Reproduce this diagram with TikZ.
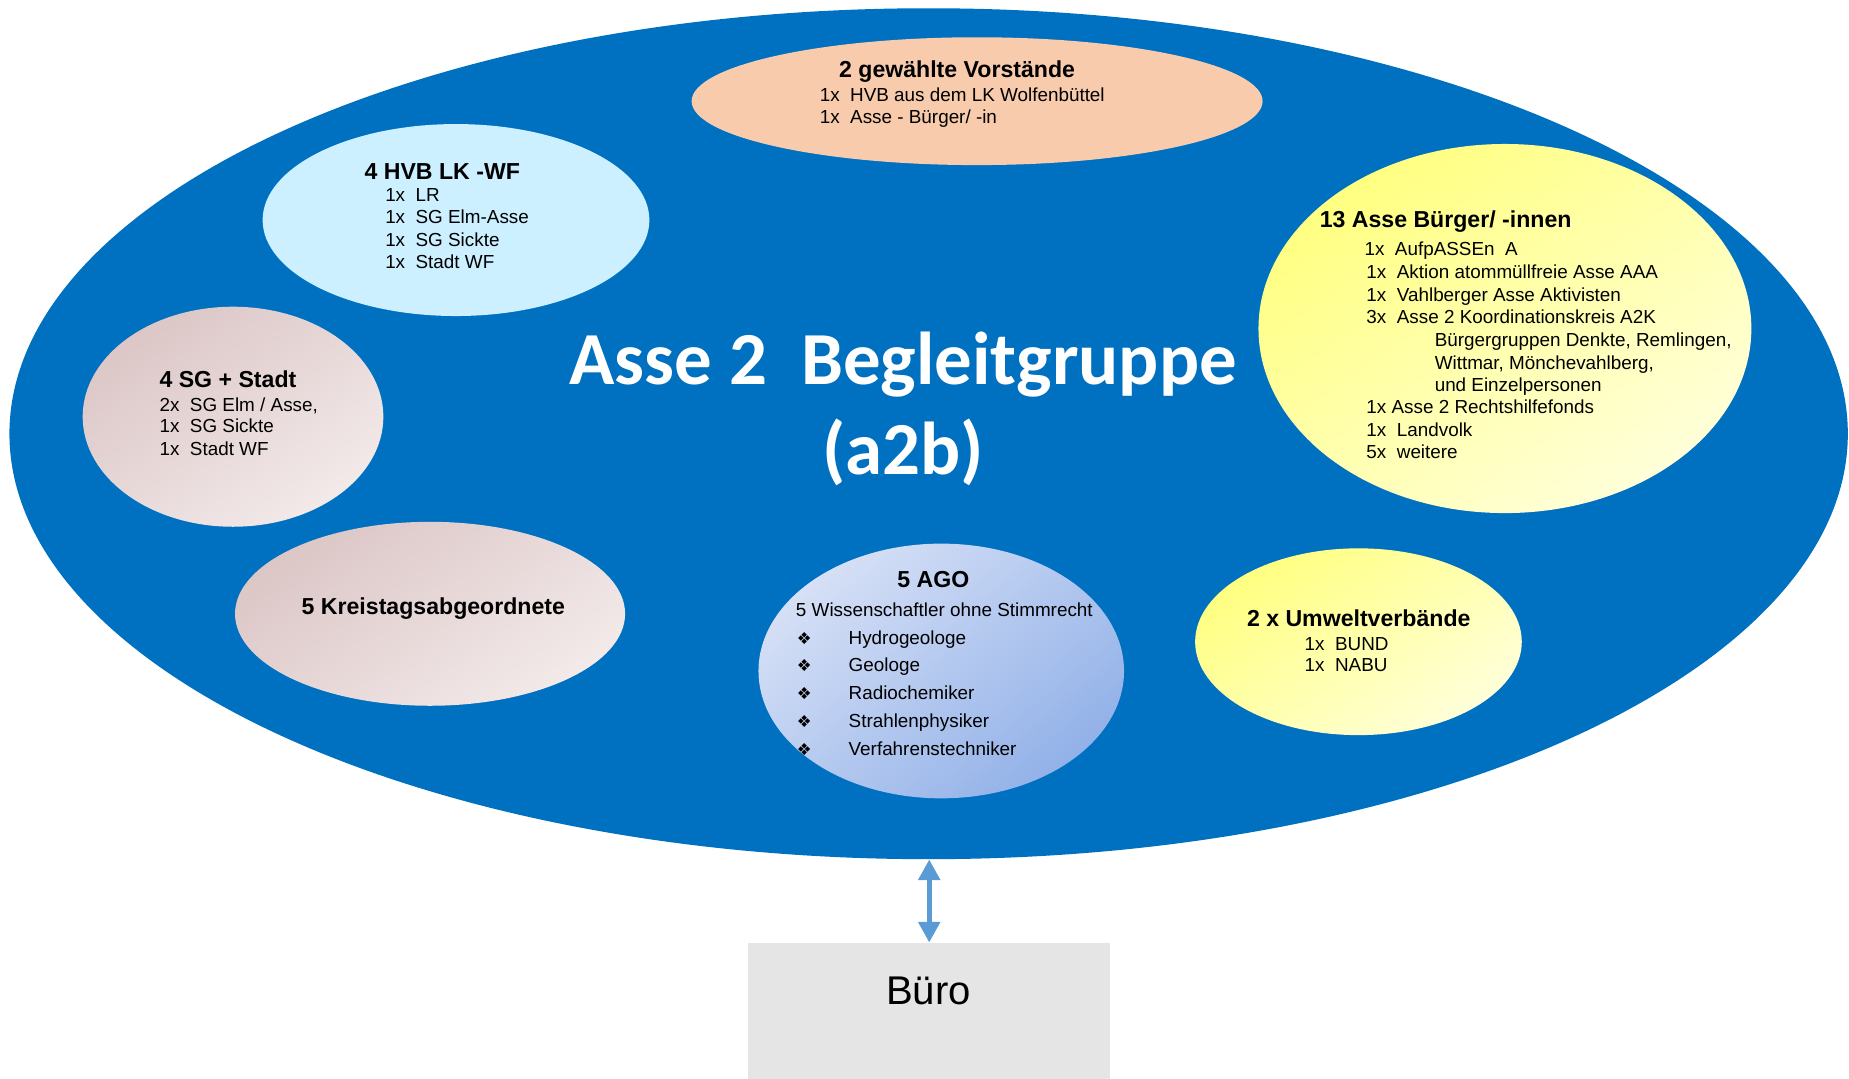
\documentclass[tikz,border=0pt]{standalone}
\usepackage{fontspec}
\setmainfont{Liberation Sans}
\newfontfamily\titlefont{Carlito}
\newfontfamily\symfont{DejaVu Sans}
\usetikzlibrary{shapes.geometric, arrows.meta}
\definecolor{bigblue}{HTML}{0070C0}
\definecolor{peach}{HTML}{F8CBAD}
\definecolor{skyblue}{HTML}{CCF0FF}
\definecolor{pinkA}{RGB}{220,198,198}
\definecolor{pinkB}{RGB}{243,234,234}
\definecolor{agoA}{RGB}{214,224,246}
\definecolor{agoB}{RGB}{146,177,232}
\definecolor{yelA}{RGB}{255,255,128}
\definecolor{yelB}{RGB}{255,255,218}
\definecolor{arrowblue}{HTML}{5B9BD5}
\definecolor{burogray}{HTML}{E5E5E5}
\tikzset{
  oval/.style={ellipse, inner sep=0pt, draw=none},
  body/.style={font=\fontsize{16}{19}\selectfont, inner sep=0pt, anchor=base west, text=black},
  head/.style={font=\fontsize{19.6}{23}\selectfont\bfseries, inner sep=0pt, anchor=base west, text=black},
  pinkshade/.style={top color=pinkA, bottom color=pinkB, shading angle=35},
  agoshade/.style={top color=agoA, bottom color=agoB, shading angle=40},
  yelshade/.style={top color=yelA, bottom color=yelB, shading angle=35},
  bigtitle/.style={font=\titlefont\fontsize{63.5}{76}\selectfont\bfseries, text=white, inner sep=0pt, anchor=base},
  bullet/.style={font=\symfont\fontsize{14}{16}\selectfont, inner sep=0pt, anchor=center},
}
\begin{document}
\begin{tikzpicture}[x=1pt, y=-1pt]
\useasboundingbox (0,0) rectangle (1568,915);

% main ellipse
\node[oval, fill=bigblue, minimum width=1559pt, minimum height=721.6pt] (big) at (787.5,367.8) {};

% member ellipses
\node[oval, fill=peach, minimum width=484.2pt, minimum height=108.4pt] (vorst) at (828.6,85.8) {};
\node[oval, fill=skyblue, minimum width=328pt, minimum height=162.8pt] (hvb) at (386.7,186.6) {};
\node[oval, pinkshade, minimum width=255pt, minimum height=186.6pt] (sg) at (197.6,353.4) {};
\node[oval, pinkshade, minimum width=330.8pt, minimum height=156pt] (kreis) at (364.7,520.5) {};
\node[oval, agoshade, minimum width=310pt, minimum height=216pt] (ago) at (798.2,569) {};
\node[oval, yelshade, minimum width=418pt, minimum height=313pt] (buerger) at (1276.2,278.6) {};
\node[oval, yelshade, minimum width=277pt, minimum height=158.4pt] (umwelt) at (1152,544.2) {};

% big title
\node[bigtitle] (title1) at (766,326) {Asse 2\ \ Begleitgruppe};
\node[bigtitle] (title2) at (766,402) {(a2b)};

% 2 gewählte Vorstände
\node[head] (vorsthead) at (711.4,65.5) {2 gewählte Vorstände};
\node[body] (vorst1) at (695,86) {1x\ \ HVB aus dem LK Wolfenbüttel};
\node[body] (vorst2) at (695,105) {1x\ \ Asse - Bürger/ -in};

% 4 HVB LK -WF
\node[head] (hvbhead) at (309,151.8) {4 HVB LK -WF};
\foreach \yy/\t [count=\i] in {171/LR, 189.9/SG Elm-Asse, 208.8/SG Sickte, 227.5/Stadt WF}
  \node[body, name=hvb\i] at (326.5,\yy) {1x\ \ \t};

% 4 SG + Stadt
\node[head] (sghead) at (135.1,328.5) {4 SG + Stadt};
\foreach \yy/\t [count=\i] in {348.6/{2x\ \ SG Elm / Asse,}, 367/{1x\ \ SG Sickte}, 385.9/{1x\ \ Stadt WF}}
  \node[body, name=sg\i] at (135.1,\yy) {\t};

% 5 Kreistagsabgeordnete
\node[head, anchor=base] (kreishead) at (367.5,521) {5 Kreistagsabgeordnete};

% 13 Asse Bürger/ -innen
\node[head] (buergerhead) at (1119,192.8) {13 Asse Bürger/ -innen};
\foreach \xx/\yy/\t [count=\i] in {
  1157/216.3/{1x\ \ AufpASSEn\ \ A},
  1158.6/236.1/{1x\ \ Aktion atommüllfreie Asse AAA},
  1158.6/255.9/{1x\ \ Vahlberger Asse Aktivisten},
  1158.6/274.2/{3x\ \ Asse 2 Koordinationskreis A2K},
  1216.5/294.0/{Bürgergruppen Denkte, Remlingen,},
  1216.5/313.2/{Wittmar, Mönchevahlberg,},
  1216.5/332.2/{und Einzelpersonen},
  1158.6/350.6/{1x Asse 2 Rechtshilfefonds},
  1158.6/369.8/{1x\ \ Landvolk},
  1158.6/388.8/{5x\ \ weitere}}
  \node[body, name=buerger\i] at (\xx,\yy) {\t};

% 5 AGO
\node[head, anchor=base] (agohead) at (791.5,498.4) {5 AGO};
\node[body] (agosub) at (674.8,522.4) {5 Wissenschaftler ohne Stimmrecht};
\foreach \yy/\t [count=\i] in {546.2/Hydrogeologe, 569.7/Geologe, 593.1/Radiochemiker, 616.9/Strahlenphysiker, 640.3/Verfahrenstechniker}{
  \node[bullet, name=agob\i] at (682,\yy-5) {❖};
  \node[body, name=ago\i] at (719.5,\yy) {\t};
}

% 2 x Umweltverbände
\node[head] (umwelthead) at (1057.3,531) {2 x Umweltverbände};
\node[body] (umwelt1) at (1106.2,551.3) {1x\ \ BUND};
\node[body] (umwelt2) at (1106.2,569.7) {1x\ \ NABU};

% Büro
\node[rectangle, fill=burogray, draw=none, inner sep=0pt, minimum width=306.7pt, minimum height=115.5pt] (buro) at (788,857.25) {};
\node[font=\fontsize{34}{40}\selectfont, inner sep=0pt, anchor=base] (burotext) at (787.4,851.5) {Büro};

% connector
\draw[arrowblue, line width=4.5pt, {Triangle[width=17.8pt,length=17.5pt]}-{Triangle[width=17.8pt,length=17.5pt]}]
  (buro.north |- big.south) -- (buro.north);
\end{tikzpicture}
\end{document}
